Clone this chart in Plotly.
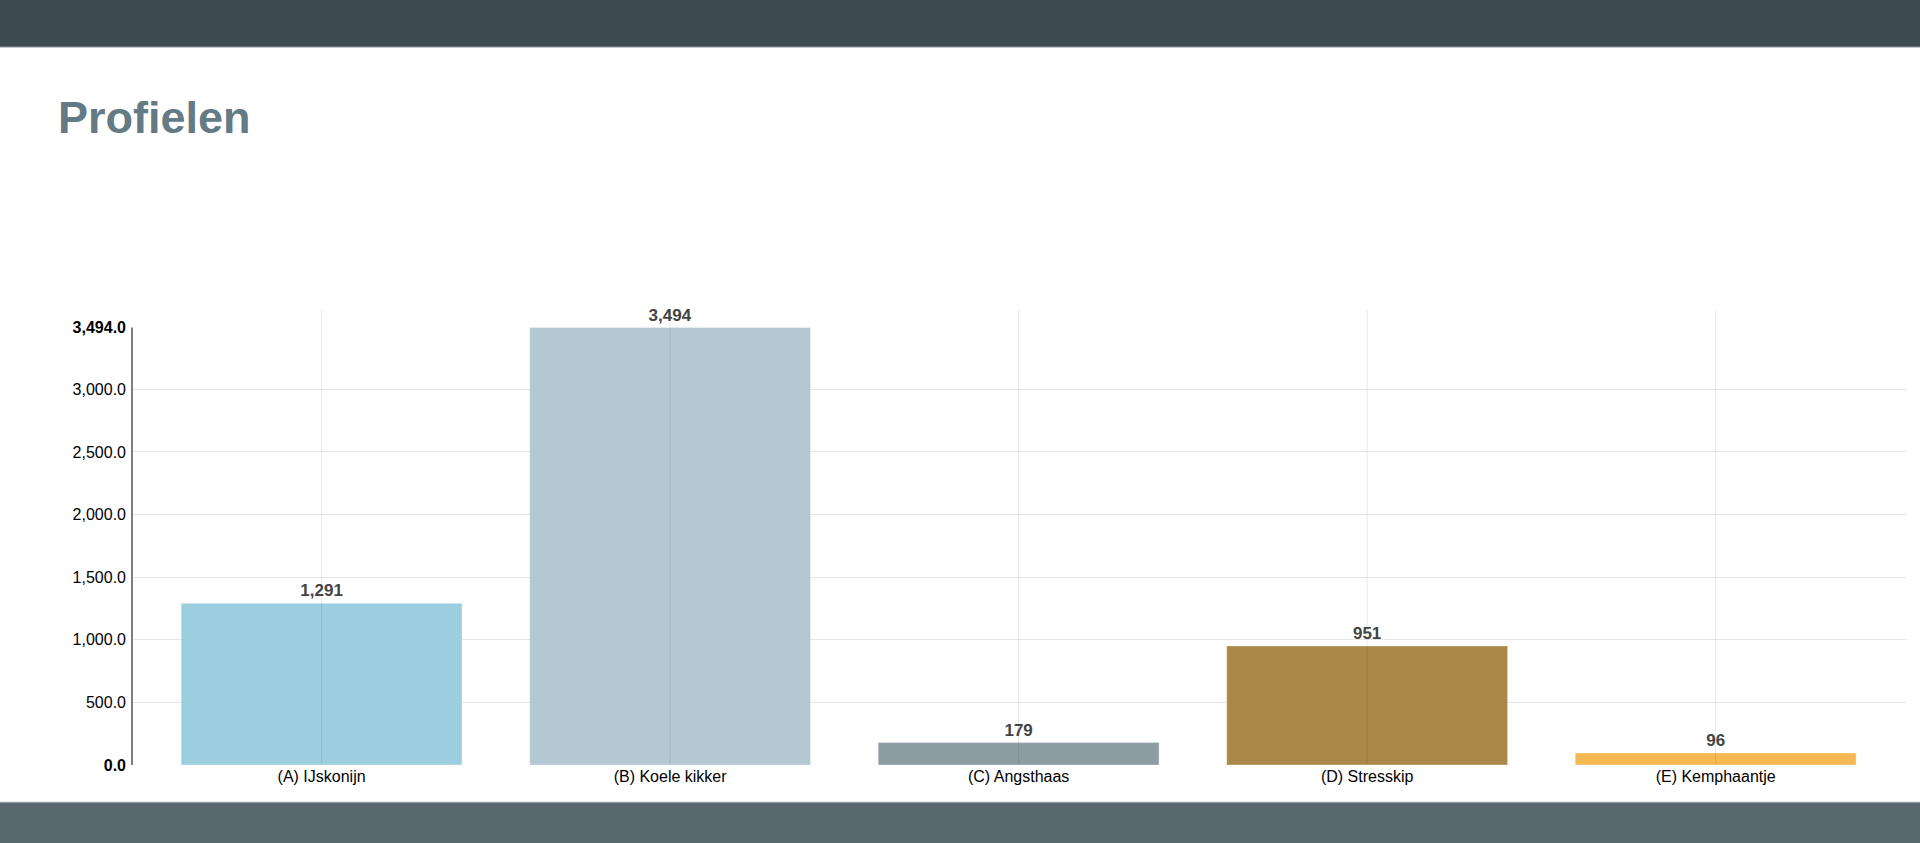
import plotly.graph_objects as go

categories = ["(A) IJskonijn", "(B) Koele kikker", "(C) Angsthaas", "(D) Stresskip", "(E) Kemphaantje"]
values = [1291, 3494, 179, 951, 96]
colors = ["#9bcfe0", "#b3c8d3", "#8e9ca3", "#ac8848", "#f5b853"]
grid_ticks = [500, 1000, 1500, 2000, 2500, 3000]

W, H = 1920, 843
ML, MR, MT, MB = 132, 13, 310, 78
plot_h = H - MT - MB
plot_w = W - ML - MR

def py(pixel_y):
    return (H - MB - pixel_y) / plot_h

def px(pixel_x):
    return (pixel_x - ML) / plot_w

vmax = max(values)
x_idx = list(range(len(categories)))

fig = go.Figure()
fig.add_trace(go.Bar(
    x=x_idx, y=values, width=0.806,
    marker=dict(color=colors, line=dict(width=1, color="rgba(255,255,255,0.35)")),
    text=[f"{v:,}" for v in values], textposition="outside",
    textfont=dict(family="Liberation Sans, Arial", size=17, color="#444444", weight="bold"),
    cliponaxis=False, hoverinfo="x+y",
))

y_tickvals = [0] + grid_ticks + [vmax]
y_ticktext = ["<b>0.0</b>"] + [f"{v:,.1f}" for v in grid_ticks] + [f"<b>{vmax:,.1f}</b>"]

fig.update_layout(
    width=W, height=H,
    margin=dict(l=ML, r=MR, t=MT, b=MB, pad=0),
    paper_bgcolor="white", plot_bgcolor="white",
    showlegend=False,
    font=dict(family="Liberation Sans, Arial", size=16, color="#000000"),
    title=dict(text="<b>Profielen</b>", xref="container", yref="container",
               x=58 / W, xanchor="left", y=1 - 117 / H, yanchor="middle",
               font=dict(family="Liberation Sans, Arial", size=45, color="#647a85")),
    xaxis=dict(range=[-0.544, 4.549], tickvals=x_idx, ticktext=categories,
               showgrid=False, zeroline=False, showline=False, ticks="",
               tickfont=dict(size=16, color="#000000")),
    yaxis=dict(range=[0, vmax * 1.04], tickvals=y_tickvals, ticktext=y_ticktext,
               showgrid=False, zeroline=False, showline=False, ticks="",
               ticklabelstandoff=5,
               tickfont=dict(size=16, color="#000000"),
               minor=dict(tickvals=[0] + grid_ticks, showgrid=True, gridcolor="#e6e6e6", gridwidth=1, ticks="")),
    bargap=0.2,
)

shapes = []
# vertical grid lines through category centres (drawn above the bars, faint)
for i in x_idx:
    shapes.append(dict(type="line", xref="x", yref="paper", x0=i, x1=i, y0=0, y1=1,
                       line=dict(color="rgba(0,0,0,0.09)", width=1), layer="above"))
# y axis line from 0 to max value
shapes.append(dict(type="line", xref="paper", yref="y", x0=0, x1=0, y0=0, y1=vmax,
                   line=dict(color="#555555", width=1.5), layer="above"))
# top header bar
shapes.append(dict(type="rect", xref="paper", yref="paper", x0=px(-10), x1=px(W + 10),
                   y0=py(47), y1=py(-10), fillcolor="#3d4a50", line=dict(width=0), layer="above"))
shapes.append(dict(type="line", xref="paper", yref="paper", x0=px(-10), x1=px(W + 10),
                   y0=py(47), y1=py(47), line=dict(color="#8a9499", width=1), layer="above"))
# bottom footer bar
shapes.append(dict(type="rect", xref="paper", yref="paper", x0=px(-10), x1=px(W + 10),
                   y0=py(H + 10), y1=py(802), fillcolor="#5a6870", line=dict(width=0), layer="above"))
shapes.append(dict(type="line", xref="paper", yref="paper", x0=px(-10), x1=px(W + 10),
                   y0=py(802), y1=py(802), line=dict(color="#c8cdd0", width=1), layer="above"))
fig.update_layout(shapes=shapes)

fig.write_html("out.html")
